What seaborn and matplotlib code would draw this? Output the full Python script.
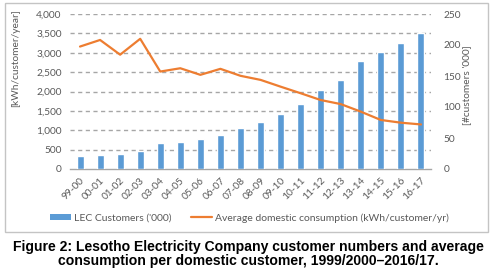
import numpy as np
import pandas as pd
import matplotlib
matplotlib.use("Agg")
import matplotlib.pyplot as plt
import seaborn as sns
from matplotlib.patches import Rectangle
from matplotlib.lines import Line2D
from matplotlib.patches import Patch

# data
years = ["99-00", "00-01", "01-02", "02-03", "03-04", "04-05", "05-06", "06-07", "07-08",
         "08-09", "09-10", "10-11", "11-12", "12-13", "13-14", "14-15", "15-16", "16-17"]
customers = [20.5, 22.7, 24.3, 29.0, 42.0, 43.2, 48.6, 54.5, 65.9,
             76.1, 89.0, 104.8, 127.4, 144.2, 175.0, 188.4, 203.6, 218.7]
consumption = [3160, 3330, 2950, 3360, 2515, 2600, 2430, 2585, 2405,
               2300, 2125, 1955, 1780, 1675, 1480, 1265, 1195, 1150]

df = pd.DataFrame({"year": years, "customers": customers, "consumption": consumption})

sns.set_theme(style="white")
plt.rcParams["font.family"] = ["Lato", "DejaVu Sans"]

bar_col = "#5B9BD5"
line_col = "#ED7D31"
txt_col = "#595959"
grid_col = "#A6A6A6"

fig = plt.figure(figsize=(4.96, 2.75), dpi=100)
ax = fig.add_axes([70 / 496, 1 - 169 / 275, 361 / 496, 155 / 275])

# bars: customers ('000) on right-hand axis
sns.barplot(data=df, x="year", y="customers", color=bar_col, width=0.35,
            saturation=1, ax=ax, zorder=3)

# line: average domestic consumption on left-hand axis
ax2 = ax.twinx()
sns.lineplot(x=np.arange(len(years)), y=consumption, color=line_col, linewidth=1.6, ax=ax2)

ax.set_ylim(0, 250)
ax.set_yticks(np.arange(0, 251, 50))
ax.yaxis.tick_right()
ax.yaxis.set_label_position("right")
ax.set_ylabel("[#customers '000]", fontsize=7.3, color=txt_col, rotation=90)
ax.yaxis.set_label_coords(1.086, 0.54)
ax.set_xlabel("")
ax.set_xlim(-0.5, len(years) - 0.5)

# dashed gridlines at the left-axis steps (every 500 kWh = 250/8 customers)
for g in np.linspace(0, 250, 9)[1:]:
    ax.axhline(g, color=grid_col, linestyle=(0, (3, 2.5)), linewidth=1.0, zorder=1)

ax2.set_ylim(0, 4000)
ax2.set_yticks(np.arange(0, 4001, 500))
ax2.set_yticklabels([f"{v:,}" for v in range(0, 4001, 500)])
ax2.yaxis.tick_left()
ax2.yaxis.set_label_position("left")
ax2.set_ylabel("[kWh/customer/year]", fontsize=7.3, color=txt_col)
ax2.yaxis.set_label_coords(-0.139, 0.716)
ax2.set_xlim(-0.5, len(years) - 0.5)
ax2.grid(False)

for a in (ax, ax2):
    for s in a.spines.values():
        s.set_visible(False)
    a.tick_params(axis="both", which="both", length=0, labelsize=7.3, labelcolor=txt_col)
ax.spines["bottom"].set_visible(True)
ax.spines["bottom"].set_color(grid_col)
ax.spines["bottom"].set_linewidth(1.0)
ax.tick_params(axis="y", pad=9)
ax2.tick_params(axis="y", pad=6)
ax.set_xticks(range(len(years)))
ax.set_xticklabels(years, rotation=45, ha="right", rotation_mode="anchor")
ax.tick_params(axis="x", pad=5)

# legend
handles = [Patch(facecolor=bar_col, edgecolor="none"),
           Line2D([], [], color=line_col, linewidth=1.6)]
fig.legend(handles, ["LEC Customers ('000)", "Average domestic consumption (kWh/customer/yr)"],
           loc="center", bbox_to_anchor=(0.503, 0.207), ncol=2, frameon=False,
           fontsize=7.5, labelcolor=txt_col, handlelength=2.0, handleheight=0.55,
           handletextpad=0.3, columnspacing=1.9)

# chart frame
fig.patches.append(Rectangle((5 / 496, 1 - 232 / 275), 483 / 496, 229 / 275,
                             transform=fig.transFigure, fill=False,
                             edgecolor="#C4C4C4", linewidth=1.0))

fig.text(0.5, 1 - 253.5 / 275,
         "Figure 2: Lesotho Electricity Company customer numbers and average\n"
         "consumption per domestic customer, 1999/2000\u20132016/17.",
         ha="center", va="center", fontsize=10.1, fontweight="bold",
         family=["Liberation Sans", "DejaVu Sans"], color="black", linespacing=1.0)

fig.savefig("out.png", dpi=100)
